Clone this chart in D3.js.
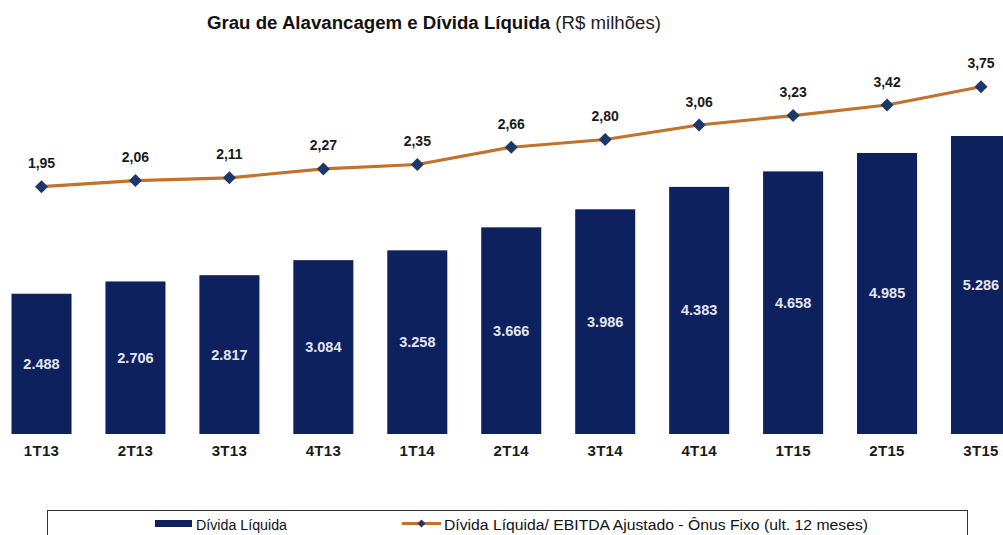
<!DOCTYPE html>
<html>
<head>
<meta charset="utf-8">
<script src="https://cdn.jsdelivr.net/npm/d3@7"></script>
<style>
  html, body { margin: 0; padding: 0; background: #fff; }
  svg { display: block; font-family: "Liberation Sans", Arial, sans-serif; }
</style>
</head>
<body>
<svg id="chart" width="1003" height="535"></svg>
<script>
// Quarters
const categories = ["1T13", "2T13", "3T13", "4T13", "1T14", "2T14", "3T14", "4T14", "1T15", "2T15", "3T15"];
// Dívida Líquida (R$ milhões)
const netDebt = [2488, 2706, 2817, 3084, 3258, 3666, 3986, 4383, 4658, 4985, 5286];
// Dívida Líquida / EBITDA Ajustado - Ônus Fixo (ult. 12 meses)
const leverage = [1.95, 2.06, 2.11, 2.27, 2.35, 2.66, 2.80, 3.06, 3.23, 3.42, 3.75];

const barColor = "#0d215e";
const lineColor = "#c2722c";
const markerColor = "#1b3868";

const svg = d3.select("#chart");

const x = d3.scaleBand()
  .domain(categories)
  .range([-5.47, 1027.98])
  .paddingInner(0.361)
  .paddingOuter(0.1805);

const yBar = d3.scaleLinear().domain([0, 5286]).range([434, 136]);
const yLine = d3.scaleLinear().domain([1.95, 3.75]).range([186.7, 86.7]);

const fmtInt = d => d3.format(",")(d).replace(/,/g, ".");
const fmtDec = d => d.toFixed(2).replace(".", ",");

// Title
const title = svg.append("text")
  .attr("x", 207).attr("y", 29)
  .attr("font-size", 18).attr("fill", "#111")
  .attr("textLength", 454).attr("lengthAdjust", "spacingAndGlyphs");
title.append("tspan").attr("font-weight", "bold").text("Grau de Alavancagem e Dívida Líquida");
title.append("tspan").attr("fill", "#222").text(" (R$ milhões)");

// Bars
svg.append("g").selectAll("rect")
  .data(netDebt)
  .join("rect")
  .attr("x", (d, i) => x(categories[i]))
  .attr("width", x.bandwidth())
  .attr("y", d => yBar(d))
  .attr("height", d => yBar(0) - yBar(d))
  .attr("fill", barColor);

// Bar value labels
svg.append("g").selectAll("text")
  .data(netDebt)
  .join("text")
  .attr("x", (d, i) => x(categories[i]) + x.bandwidth() / 2)
  .attr("y", d => (yBar(d) + yBar(0)) / 2 + 5)
  .attr("text-anchor", "middle")
  .attr("font-size", 14.5).attr("font-weight", "bold")
  .attr("fill", "#e4e6ee")
  .text(d => fmtInt(d));

// Category axis labels
const xAxis = d3.axisBottom(x).tickSize(0).tickPadding(0);
const gx = svg.append("g").attr("transform", "translate(0,445)").call(xAxis);
gx.select(".domain").remove();
gx.selectAll("text")
  .attr("font-family", "Liberation Sans, Arial, sans-serif")
  .attr("font-size", 15).attr("font-weight", "bold").attr("fill", "#1a1a1a")
  .attr("letter-spacing", 0.3)
  .attr("dy", "0.71em");

// Leverage line
const cx = (d, i) => x(categories[i]) + x.bandwidth() / 2;
const line = d3.line().x(cx).y(d => yLine(d));
svg.append("path")
  .datum(leverage)
  .attr("d", line)
  .attr("fill", "none")
  .attr("stroke", lineColor)
  .attr("stroke-width", 3.2)
  .attr("stroke-linejoin", "round");

// Diamond markers
svg.append("g").selectAll("path")
  .data(leverage)
  .join("path")
  .attr("transform", (d, i) => `translate(${cx(d, i)},${yLine(d)}) rotate(45)`)
  .attr("d", "M-4.6,-4.6H4.6V4.6H-4.6Z")
  .attr("fill", markerColor);

// Line value labels
svg.append("g").selectAll("text")
  .data(leverage)
  .join("text")
  .attr("x", cx)
  .attr("y", d => yLine(d) - 18.5)
  .attr("text-anchor", "middle")
  .attr("font-size", 14).attr("font-weight", "bold")
  .attr("fill", "#1a1a1a")
  .text(d => fmtDec(d));

// Legend
const legend = svg.append("g");
legend.append("rect")
  .attr("x", 47.5).attr("y", 510.5)
  .attr("width", 920).attr("height", 40)
  .attr("fill", "#fff").attr("stroke", "#333").attr("stroke-width", 1);
legend.append("rect")
  .attr("x", 155).attr("y", 520).attr("width", 37).attr("height", 7)
  .attr("fill", barColor);
legend.append("text")
  .attr("x", 196).attr("y", 530)
  .attr("font-size", 15.5).attr("fill", "#111")
  .attr("textLength", 91).attr("lengthAdjust", "spacingAndGlyphs")
  .text("Dívida Líquida");
legend.append("line")
  .attr("x1", 402).attr("x2", 441).attr("y1", 523.5).attr("y2", 523.5)
  .attr("stroke", lineColor).attr("stroke-width", 3);
legend.append("path")
  .attr("transform", "translate(421.5,523.5) rotate(45)")
  .attr("d", "M-2.8,-2.8H2.8V2.8H-2.8Z")
  .attr("fill", markerColor);
legend.append("text")
  .attr("x", 444).attr("y", 530)
  .attr("font-size", 15.5).attr("fill", "#111")
  .attr("textLength", 424).attr("lengthAdjust", "spacingAndGlyphs")
  .text("Dívida Líquida/ EBITDA Ajustado - Ônus Fixo (ult. 12 meses)");
</script>
</body>
</html>
